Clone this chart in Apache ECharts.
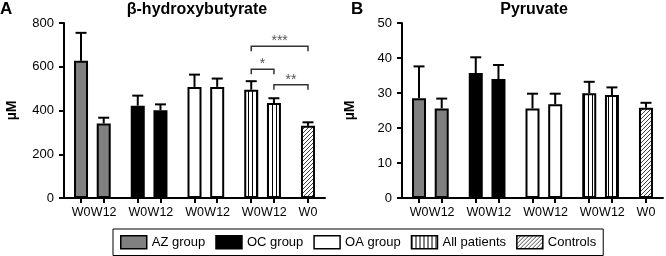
<!DOCTYPE html>
<html>
<head>
<meta charset="utf-8">
<script src="https://cdn.jsdelivr.net/npm/echarts@6/dist/echarts.min.js"></script>
<style>
  html, body { margin: 0; padding: 0; background: #fff; }
  #chart { width: 666px; height: 256px; }
</style>
</head>
<body>
<div id="chart"></div>
<script>
// groups and timepoints
const groups = ['AZ group', 'OC group', 'OA group', 'All patients', 'Controls'];
const timepoints = [['W0', 'W12'], ['W0', 'W12'], ['W0', 'W12'], ['W0', 'W12'], ['W0']];

// beta-hydroxybutyrate (µM): means and top of error bar, per group
const bhbMean = [[627, 341], [422, 401], [508, 508], [495, 434], [330]];
const bhbUpper = [[755, 367], [468, 428], [564, 546], [534, 456], [346]];

// pyruvate (µM)
const pyrMean = [[28.5, 25.6], [35.7, 34.0], [25.6, 26.8], [29.9, 29.4], [25.8]];
const pyrUpper = [[37.6, 28.4], [40.2, 38.0], [29.8, 29.8], [33.2, 31.6], [27.2]];

// significance brackets in panel A: [group, timepoint index] ends
const bracketFrom = [[3, 0], [3, 0], [3, 1]];
const bracketTo = [[4, 0], [3, 1], [4, 0]];
const bracketLevel = [694, 589, 518];
const bracketLabels = ['***', '*', '**'];

const bhbTicks = { min: 0, max: 800, interval: 200 };
const pyrTicks = { min: 0, max: 50, interval: 10 };

// ---- layout of category slots (blank slots make the gaps) ----
const slotOf = [];
const cats = [''];
groups.forEach((g, gi) => {
  slotOf.push([]);
  timepoints[gi].forEach((t, ti) => {
    if (ti > 0) cats.push('');
    slotOf[gi].push(cats.length);
    cats.push(t);
  });
  cats.push('', '');
});
cats.length = 23;

function makePattern(draw) {
  const c = document.createElement('canvas');
  c.width = 4; c.height = 4;
  const ctx = c.getContext('2d');
  ctx.fillStyle = '#fff';
  ctx.fillRect(0, 0, 4, 4);
  draw(ctx);
  return { image: c, repeat: 'repeat' };
}
const stripes = makePattern(ctx => {
  ctx.fillStyle = '#000';
  ctx.fillRect(0, 0, 1, 4);
});
const hatch = makePattern(ctx => {
  ctx.strokeStyle = '#444';
  ctx.lineWidth = 1;
  ctx.beginPath();
  ctx.moveTo(0, 4); ctx.lineTo(4, 0);
  ctx.moveTo(-1, 1); ctx.lineTo(1, -1);
  ctx.moveTo(3, 5); ctx.lineTo(5, 3);
  ctx.stroke();
});
const fills = ['#808080', '#000', '#fff', stripes, hatch];

const font = 'Liberation Sans, Arial, sans-serif';
const showSlot = (i, v) => v !== '';

function gridAxes(idx, ticks) {
  const x = {
    type: 'category', gridIndex: idx, data: cats,
    axisLine: { lineStyle: { color: '#000', width: 2 } },
    axisTick: { show: true, interval: showSlot, alignWithLabel: true, length: 5, lineStyle: { color: '#000', width: 2 } },
    axisLabel: { interval: showSlot, hideOverlap: false, color: '#000', fontSize: 12.5, fontFamily: font, margin: 8 }
  };
  const y = {
    type: 'value', gridIndex: idx, min: ticks.min, max: ticks.max, interval: ticks.interval,
    name: 'µM', nameLocation: 'middle', nameGap: 45,
    nameTextStyle: { color: '#000', fontSize: 14, fontWeight: 'bold', fontFamily: font },
    axisLine: { show: true, lineStyle: { color: '#000', width: 2 } },
    axisTick: { show: true, length: 5, lineStyle: { color: '#000', width: 2 } },
    axisLabel: { color: '#000', fontSize: 13, fontFamily: font, margin: 10, hideOverlap: false },
    splitLine: { show: false }
  };
  return [x, y];
}

function barSeries(idx, means) {
  return groups.map((g, gi) => {
    const data = cats.map(() => '-');
    means[gi].forEach((v, ti) => { data[slotOf[gi][ti]] = v; });
    return {
      name: g, type: 'bar', xAxisIndex: idx, yAxisIndex: idx,
      barWidth: 14, barGap: '-100%', data,
      itemStyle: { color: fills[gi], borderColor: '#000', borderWidth: 2 },
      emphasis: { disabled: true }, z: 2
    };
  });
}

function errorSeries(idx, means, uppers) {
  const data = [];
  groups.forEach((g, gi) => means[gi].forEach((v, ti) => {
    data.push([slotOf[gi][ti], v, uppers[gi][ti]]);
  }));
  return {
    type: 'custom', xAxisIndex: idx, yAxisIndex: idx, data, z: 3,
    renderItem: (params, api) => {
      const base = api.coord([api.value(0), api.value(1)]);
      const top = api.coord([api.value(0), api.value(2)]);
      const st = { stroke: '#000', lineWidth: 2 };
      return {
        type: 'group', children: [
          { type: 'line', shape: { x1: base[0], y1: base[1], x2: top[0], y2: top[1] }, style: st },
          { type: 'line', shape: { x1: top[0] - 5.5, y1: top[1], x2: top[0] + 5.5, y2: top[1] }, style: st }
        ]
      };
    }
  };
}

const bracketData = bracketFrom.map((f, i) => [
  slotOf[f[0]][f[1]], slotOf[bracketTo[i][0]][bracketTo[i][1]], bracketLevel[i], bracketLabels[i]
]);
const bracketSeries = {
  type: 'custom', xAxisIndex: 0, yAxisIndex: 0, data: bracketData, z: 4,
  renderItem: (params, api) => {
    const a = api.coord([api.value(0), api.value(2)]);
    const b = api.coord([api.value(1), api.value(2)]);
    const st = { stroke: '#333', lineWidth: 1.5, fill: null };
    return {
      type: 'group', children: [
        { type: 'polyline', shape: { points: [[a[0], a[1] + 5], a, b, [b[0], b[1] + 5]] }, style: st },
        { type: 'text', x: (a[0] + b[0]) / 2, y: a[1] + 2,
          style: { text: bracketData[params.dataIndex][3], fill: '#555', font: '14px ' + font,
                   align: 'center', verticalAlign: 'bottom' } }
      ]
    };
  }
};

const [xa, ya] = gridAxes(0, bhbTicks);
const [xb, yb] = gridAxes(1, pyrTicks);

const chart = echarts.init(document.getElementById('chart'));
chart.setOption({
  animation: false,
  textStyle: { fontFamily: font },
  title: [
    { text: 'A', left: 0, top: 1, padding: 0, textStyle: { fontSize: 17, fontWeight: 'bold', color: '#000' } },
    { text: 'β-hydroxybutyrate', left: 197, top: 2, padding: 0, textAlign: 'center',
      textStyle: { fontSize: 16, fontWeight: 'bold', color: '#000' } },
    { text: 'B', left: 351, top: 1, padding: 0, textStyle: { fontSize: 17, fontWeight: 'bold', color: '#000' } },
    { text: 'Pyruvate', left: 534, top: 2, padding: 0, textAlign: 'center',
      textStyle: { fontSize: 16, fontWeight: 'bold', color: '#000' } }
  ],
  legend: {
    data: groups, left: 113, top: 229, padding: [6, 7, 6, 7],
    borderColor: '#000', borderWidth: 1, icon: 'rect',
    itemWidth: 26, itemHeight: 13, itemGap: 10,
    itemStyle: { borderColor: '#000', borderWidth: 1.5 },
    textStyle: { color: '#000', fontSize: 13, fontFamily: font },
    selectedMode: false
  },
  grid: [
    { left: 64, top: 23, width: 261, height: 175 },
    { left: 402, top: 23, width: 261, height: 175 }
  ],
  xAxis: [xa, xb],
  yAxis: [ya, yb],
  series: [
    ...barSeries(0, bhbMean),
    ...barSeries(1, pyrMean),
    errorSeries(0, bhbMean, bhbUpper),
    errorSeries(1, pyrMean, pyrUpper),
    bracketSeries
  ]
});
</script>
</body>
</html>
